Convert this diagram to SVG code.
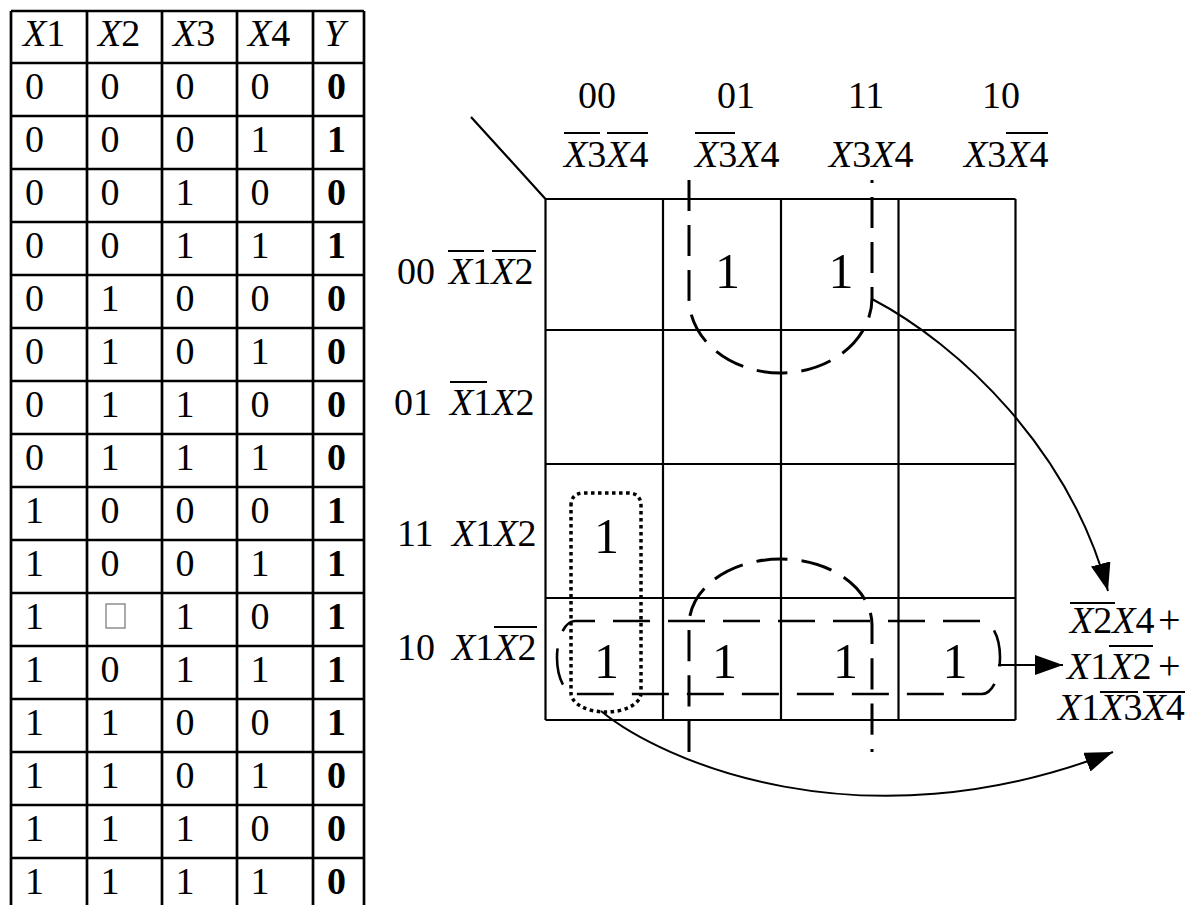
<svg xmlns="http://www.w3.org/2000/svg" width="1189" height="905" viewBox="0 0 1189 905">
<defs>
<style>
text{font-family:"Liberation Serif","Times New Roman",serif;font-size:38px;fill:#000}
.i{font-style:italic}
.b{font-weight:bold}
.big{font-size:50px}
.plus{font-size:40px}
.tl{stroke:#000;stroke-width:2.7;fill:none}
.gl{stroke:#000;stroke-width:2.2;fill:none}
.ob{stroke:#000;stroke-width:2;fill:none}
.dash{stroke:#000;stroke-width:3;fill:none;stroke-dasharray:31 14}
.dash2{stroke:#000;stroke-width:2.6;fill:none;stroke-dasharray:37 18;stroke-dashoffset:17}
.dot{stroke:#000;stroke-width:3.5;fill:none;stroke-dasharray:3.5 3.5}
.arr{stroke:#000;stroke-width:2;fill:none;marker-end:url(#ah)}
</style>
<marker id="ah" markerUnits="userSpaceOnUse" markerWidth="30" markerHeight="22" refX="28" refY="10" orient="auto">
<path d="M0,0 L28,10 L0,20 Z" fill="#000"/>
</marker>
</defs>
<rect width="1189" height="905" fill="#fff"/>

<g id="truth-table">
<path class="tl" d="M11 11H364M11 63H364M11 116H364M11 169H364M11 222H364M11 275H364M11 328H364M11 381H364M11 434H364M11 487H364M11 540H364M11 593H364M11 646H364M11 699H364M11 752H364M11 805H364M11 858H364M11 11V905M87 11V905M162 11V905M237 11V905M313 11V905M364 11V905"/>
<text x="23" y="46"><tspan class="i">X</tspan>1</text>
<text x="98" y="46"><tspan class="i">X</tspan>2</text>
<text x="173" y="46"><tspan class="i">X</tspan>3</text>
<text x="248" y="46"><tspan class="i">X</tspan>4</text>
<text x="324" y="46" class="i">Y</text>
<text y="99"><tspan x="25">0</tspan><tspan x="100.5">0</tspan><tspan x="175.5">0</tspan><tspan x="250.5">0</tspan><tspan x="327" class="b">0</tspan></text>
<text y="152"><tspan x="25">0</tspan><tspan x="100.5">0</tspan><tspan x="175.5">0</tspan><tspan x="250.5">1</tspan><tspan x="327" class="b">1</tspan></text>
<text y="205"><tspan x="25">0</tspan><tspan x="100.5">0</tspan><tspan x="175.5">1</tspan><tspan x="250.5">0</tspan><tspan x="327" class="b">0</tspan></text>
<text y="258"><tspan x="25">0</tspan><tspan x="100.5">0</tspan><tspan x="175.5">1</tspan><tspan x="250.5">1</tspan><tspan x="327" class="b">1</tspan></text>
<text y="311"><tspan x="25">0</tspan><tspan x="100.5">1</tspan><tspan x="175.5">0</tspan><tspan x="250.5">0</tspan><tspan x="327" class="b">0</tspan></text>
<text y="364"><tspan x="25">0</tspan><tspan x="100.5">1</tspan><tspan x="175.5">0</tspan><tspan x="250.5">1</tspan><tspan x="327" class="b">0</tspan></text>
<text y="417"><tspan x="25">0</tspan><tspan x="100.5">1</tspan><tspan x="175.5">1</tspan><tspan x="250.5">0</tspan><tspan x="327" class="b">0</tspan></text>
<text y="470"><tspan x="25">0</tspan><tspan x="100.5">1</tspan><tspan x="175.5">1</tspan><tspan x="250.5">1</tspan><tspan x="327" class="b">0</tspan></text>
<text y="523"><tspan x="25">1</tspan><tspan x="100.5">0</tspan><tspan x="175.5">0</tspan><tspan x="250.5">0</tspan><tspan x="327" class="b">1</tspan></text>
<text y="576"><tspan x="25">1</tspan><tspan x="100.5">0</tspan><tspan x="175.5">0</tspan><tspan x="250.5">1</tspan><tspan x="327" class="b">1</tspan></text>
<text y="629"><tspan x="25">1</tspan><tspan x="175.5">1</tspan><tspan x="250.5">0</tspan><tspan x="327" class="b">1</tspan></text>
<rect x="106" y="604" width="19" height="24" fill="#fff" stroke="#888" stroke-width="1.4"/>
<text y="682"><tspan x="25">1</tspan><tspan x="100.5">0</tspan><tspan x="175.5">1</tspan><tspan x="250.5">1</tspan><tspan x="327" class="b">1</tspan></text>
<text y="735"><tspan x="25">1</tspan><tspan x="100.5">1</tspan><tspan x="175.5">0</tspan><tspan x="250.5">0</tspan><tspan x="327" class="b">1</tspan></text>
<text y="788"><tspan x="25">1</tspan><tspan x="100.5">1</tspan><tspan x="175.5">0</tspan><tspan x="250.5">1</tspan><tspan x="327" class="b">0</tspan></text>
<text y="841"><tspan x="25">1</tspan><tspan x="100.5">1</tspan><tspan x="175.5">1</tspan><tspan x="250.5">0</tspan><tspan x="327" class="b">0</tspan></text>
<text y="894"><tspan x="25">1</tspan><tspan x="100.5">1</tspan><tspan x="175.5">1</tspan><tspan x="250.5">1</tspan><tspan x="327" class="b">0</tspan></text>
</g>

<g id="kmap-grid">
<path class="gl" d="M471 117L545.5 199M545.5 199H1015.5M545.5 330H1015.5M545.5 464H1015.5M545.5 598H1015.5M545.5 720H1015.5M545.5 199V720M663 199V720M781 199V720M898.5 199V720M1015.5 199V720"/>
</g>

<g id="col-labels">
<text x="597" y="108" text-anchor="middle">00</text>
<text x="736" y="108" text-anchor="middle">01</text>
<text x="866" y="108" text-anchor="middle">11</text>
<text x="1001" y="108" text-anchor="middle">10</text>
<text x="564" y="167"><tspan class="i">X</tspan>3<tspan class="i">X</tspan>4</text>
<text x="695" y="167"><tspan class="i">X</tspan>3<tspan class="i">X</tspan>4</text>
<text x="829" y="167"><tspan class="i">X</tspan>3<tspan class="i">X</tspan>4</text>
<text x="964" y="167"><tspan class="i">X</tspan>3<tspan class="i">X</tspan>4</text>
<path class="ob" d="M564 133H600M607 133H648M695 133H735M1006 133H1048"/>
</g>

<g id="row-labels">
<text x="397" y="284">00</text>
<text x="449" y="284"><tspan class="i">X</tspan>1<tspan class="i">X</tspan>2</text>
<text x="394" y="415">01</text>
<text x="450" y="415"><tspan class="i">X</tspan>1<tspan class="i">X</tspan>2</text>
<text x="397" y="546">11</text>
<text x="452" y="546"><tspan class="i">X</tspan>1<tspan class="i">X</tspan>2</text>
<text x="397" y="660">10</text>
<text x="452" y="660"><tspan class="i">X</tspan>1<tspan class="i">X</tspan>2</text>
<path class="ob" d="M448 251H484M492 251H536M450 382H487M494 627H537"/>
</g>

<g id="cells">
<text class="big" x="727.5" y="288" text-anchor="middle">1</text>
<text class="big" x="841" y="288" text-anchor="middle">1</text>
<text class="big" x="606.5" y="553" text-anchor="middle">1</text>
<text class="big" x="606.5" y="678" text-anchor="middle">1</text>
<text class="big" x="724.5" y="678" text-anchor="middle">1</text>
<text class="big" x="845.5" y="678" text-anchor="middle">1</text>
<text class="big" x="955" y="678" text-anchor="middle">1</text>
</g>

<g id="groupings">
<path class="dash" pathLength="498" d="M689 180V298A91.5 75 0 0 0 872 298V180"/>
<path class="dash" pathLength="498" d="M689 752V625A91.5 66 0 0 1 872 625V752"/>
<path class="dash2" d="M575 621H982A18 36.5 0 0 1 982 694H575A18 36.5 0 0 1 575 621Z"/>
<path class="dot" d="M571 506Q571 493 584 493H628Q641 493 641 506V693A35 19 0 0 1 571 693Z"/>
</g>

<g id="connectors">
<path class="arr" d="M872 299C960 345 1070 450 1108 591"/>
<path class="arr" d="M998 665H1063"/>
<path class="arr" d="M601 711C660 760 860 850 1113 752"/>
</g>

<g id="formula">
<text x="1070" y="633"><tspan class="i">X</tspan>2<tspan class="i">X</tspan>4</text>
<text class="plus" x="1158" y="633">+</text>
<text x="1067" y="679"><tspan class="i">X</tspan>1<tspan class="i">X</tspan>2</text>
<text class="plus" x="1158" y="679">+</text>
<text x="1058" y="720"><tspan class="i">X</tspan>1<tspan class="i">X</tspan>3<tspan class="i">X</tspan>4</text>
<path class="ob" d="M1070 603H1115M1109 646H1153M1100 692H1138M1143 692H1185"/>
</g>
</svg>
